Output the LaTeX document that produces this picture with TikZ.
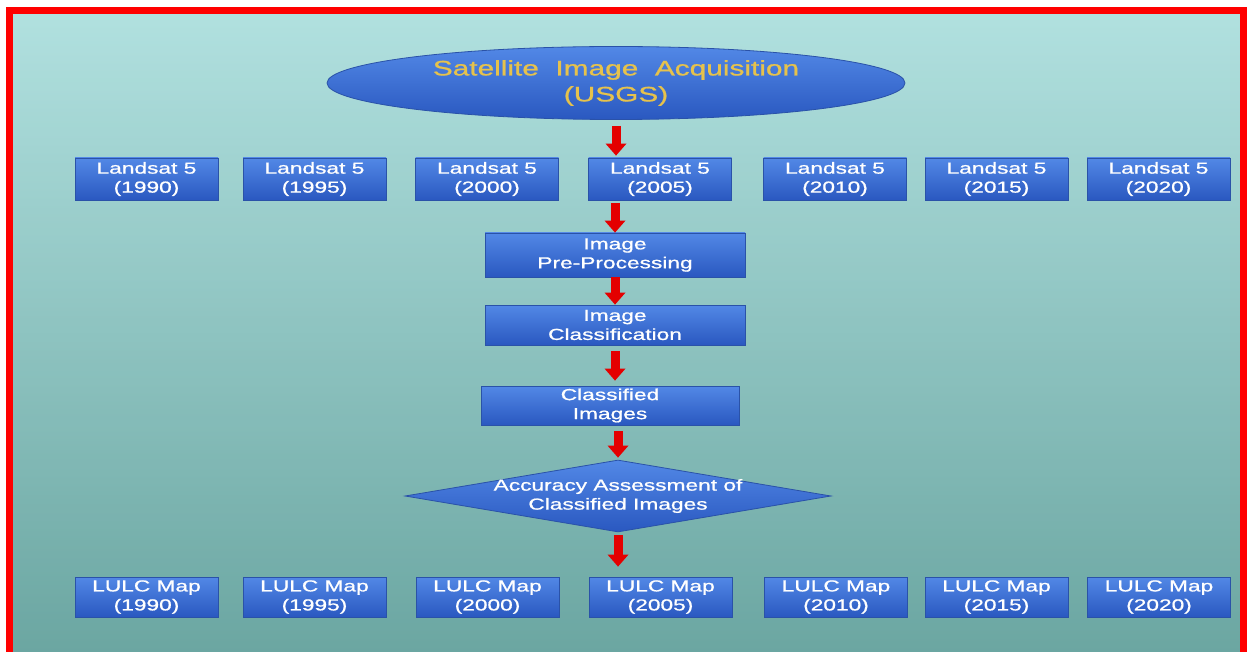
\documentclass[tikz,border=0pt]{standalone}
\usepackage{fontspec}
\newfontfamily\boxfont[FakeStretch=1.42, FakeBold=0.9]{Liberation Sans}
\usetikzlibrary{shapes.geometric,arrows.meta}

\definecolor{framered}{HTML}{FF0000}
\definecolor{bgtop}{HTML}{C4F0EF}
\definecolor{bgbot}{HTML}{6FA9A4}
\definecolor{bgside}{HTML}{5C9C99}
\definecolor{boxtop}{HTML}{5288E6}
\definecolor{boxbot}{HTML}{2A58C0}
\definecolor{boxline}{HTML}{2A52A8}
\definecolor{gold}{HTML}{E6C24C}
\definecolor{arrowred}{HTML}{E40000}

\tikzset{
  yearbox/.style = {rectangle, draw=boxline, line width=0.8pt,
    top color=boxtop, bottom color=boxbot, text=white,
    font=\boxfont\fontsize{16}{19}\selectfont, align=center,
    inner sep=0pt, minimum width=143pt, minimum height=42pt},
  stepbox/.style = {yearbox, minimum width=260pt, minimum height=44pt},
  redarrow/.style = {draw=arrowred, line width=9pt,
    -{Triangle[width=21pt, length=12pt, line width=0pt]}},
}

\begin{document}
\begin{tikzpicture}[x=1pt, y=-1pt]

\useasboundingbox (0,0) rectangle (1247,652);

% background and frame
\shade[top color=bgtop, bottom color=bgbot] (13,14) rectangle (1240,652);
\shade[left color=bgside, middle color=white, right color=bgside, opacity=0.18]
  (13,14) rectangle (1240,652);
\draw[framered, line width=7pt] (9.5,10.5) rectangle (1243.5,658);

% acquisition
\node[ellipse, draw=boxline, line width=0.8pt, top color=boxtop, bottom color=boxbot,
  text=gold, font=\boxfont\fontsize{21}{26}\selectfont, align=center,
  inner sep=0pt, minimum width=578pt, minimum height=73pt]
  (acq) at (616,83) {Satellite\ \ Image\ \ Acquisition\\(USGS)};

% landsat row
\node[yearbox] (ls1) at (146.5,179) {Landsat 5\\(1990)};
\node[yearbox] (ls2) at (314.5,179) {Landsat 5\\(1995)};
\node[yearbox] (ls3) at (487,179)   {Landsat 5\\(2000)};
\node[yearbox] (ls4) at (660,179)   {Landsat 5\\(2005)};
\node[yearbox] (ls5) at (835,179)   {Landsat 5\\(2010)};
\node[yearbox] (ls6) at (996.5,179) {Landsat 5\\(2015)};
\node[yearbox] (ls7) at (1158.5,179) {Landsat 5\\(2020)};

% processing steps
\node[stepbox] (pre) at (615,255)   {Image\\Pre-Processing};
\node[stepbox, minimum height=40pt] (cls) at (615,325) {Image\\Classification};
\node[stepbox, minimum width=258pt, minimum height=39pt] (img) at (610,405.5) {Classified\\Images};

\node[diamond, draw=boxline, line width=0.8pt, top color=boxtop, bottom color=boxbot,
  inner sep=0pt, minimum width=426pt, minimum height=72pt] (acc) at (618,496) {};
\node[text=white, font=\boxfont\fontsize{16}{19}\selectfont, align=center]
  (acctext) at (acc.center) {Accuracy Assessment of\\Classified Images};

% lulc row
\node[yearbox, minimum height=40pt] (map1) at (146.5,597) {LULC Map\\(1990)};
\node[yearbox, minimum height=40pt] (map2) at (314.5,597) {LULC Map\\(1995)};
\node[yearbox, minimum height=40pt] (map3) at (487.5,597) {LULC Map\\(2000)};
\node[yearbox, minimum height=40pt] (map4) at (660.5,597) {LULC Map\\(2005)};
\node[yearbox, minimum height=40pt] (map5) at (836,597)   {LULC Map\\(2010)};
\node[yearbox, minimum height=40pt] (map6) at (996.5,597) {LULC Map\\(2015)};
\node[yearbox, minimum height=40pt] (map7) at (1159,597)  {LULC Map\\(2020)};

% arrows
\draw[redarrow, shorten <=6pt, shorten >=2pt] (acq.south) -- (acq.south |- ls4.north);
\draw[redarrow, shorten <=3pt] (pre.north |- ls4.south) -- (pre.north);
\draw[redarrow] (pre.south) -- (cls.north);
\draw[redarrow, shorten <=6pt, shorten >=5pt] (cls.south) -- (cls.south |- img.north);
\draw[redarrow, shorten <=6pt, shorten >=2pt] (acc.north |- img.south) -- (acc.north);
\draw[redarrow, shorten <=3pt, shorten >=10pt] (acc.south) -- (acc.south |- map4.north);

\end{tikzpicture}
\end{document}
